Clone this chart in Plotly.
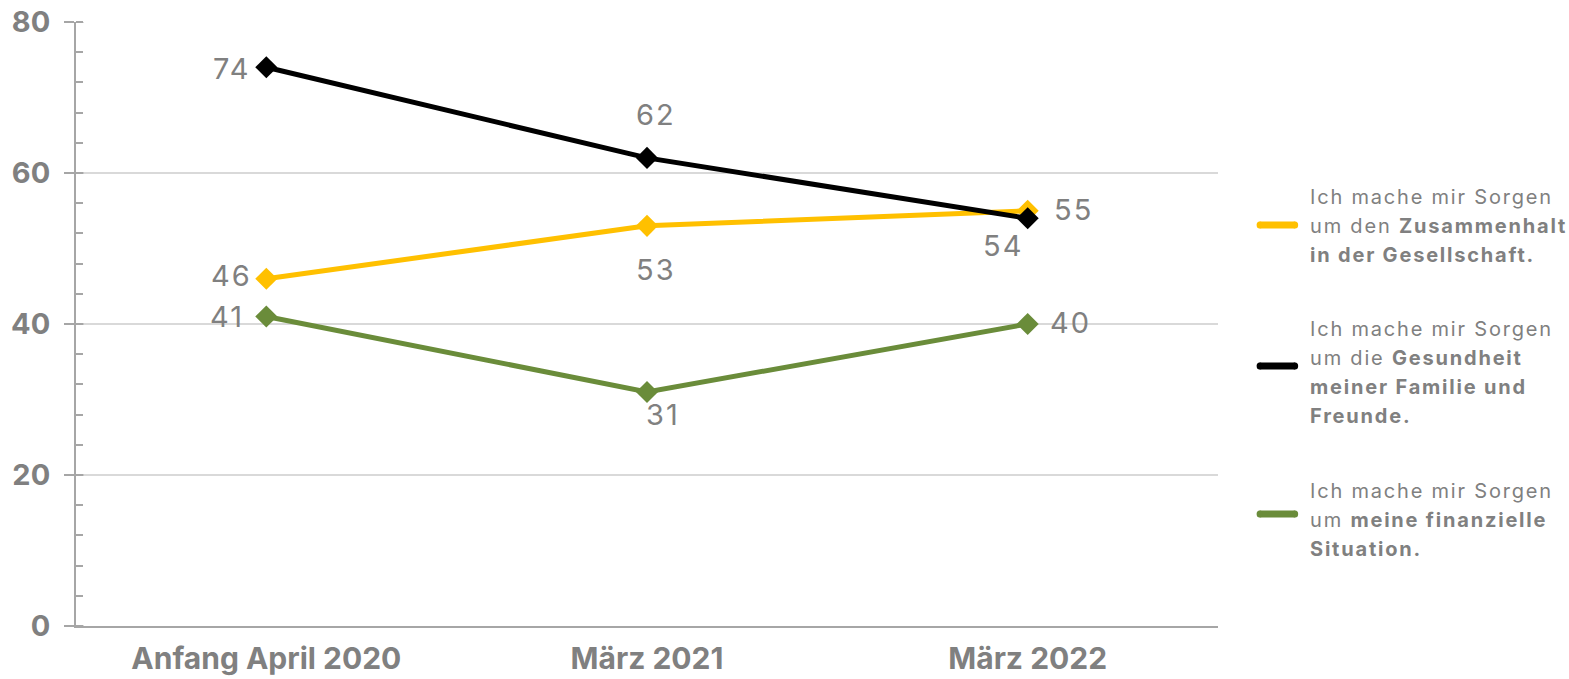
import plotly.graph_objects as go

# Survey waves and share of respondents (%) per concern
waves = ["Anfang April 2020", "März 2021", "März 2022"]
zusammenhalt = [46, 53, 55]
gesundheit = [74, 62, 54]
finanzen = [41, 31, 40]
y_ticks = [0, 20, 40, 60, 80]

series_lines = [
    ["Ich mache mir Sorgen", "um den <b>Zusammenhalt</b>", "<b>in der Gesellschaft.</b>"],
    ["Ich mache mir Sorgen", "um die <b>Gesundheit</b>", "<b>meiner Familie und</b>", "<b>Freunde.</b>"],
    ["Ich mache mir Sorgen", "um <b>meine finanzielle</b>", "<b>Situation.</b>"],
]
colors = ["#FFC000", "#000000", "#6A8C3A"]

# Pixel offsets of each value label from its marker (x, y; y up)
label_offsets = [
    [(-35, 3), (9, -44), (46, 1)],
    [(-35, -1), (9, 43), (-25, -27)],
    [(-39, 0), (16, -23), (43, 2)],
]

FONT = "Inter, 'Noto Sans', sans-serif"
GREY = "#808080"
AXIS_GREY = "#A6A6A6"


def spaced(text, px):
    return f'<span style="letter-spacing:{px}px">{text}</span>'


fig = go.Figure()
for values, color, offsets in zip([zusammenhalt, gesundheit, finanzen], colors, label_offsets):
    fig.add_trace(go.Scatter(
        x=waves, y=values, mode="lines+markers",
        line=dict(color=color, width=5),
        marker=dict(symbol="diamond", size=17, color=color),
        cliponaxis=False,
        showlegend=False,
    ))
    for wave, v, (dx, dy) in zip(waves, values, offsets):
        fig.add_annotation(
            x=wave, y=v, xref="x", yref="y",
            text=spaced(str(v), 2), showarrow=False,
            xanchor="center", yanchor="middle",
            xshift=dx, yshift=dy,
            font=dict(family=FONT, size=29, color=GREY),
        )

# Legend drawn beside the plot: a rounded line swatch plus rich text lines
legend_y = [0.662, 0.42, 0.175]
swatch_y = [0.664, 0.4305, 0.1854]
line_gap = 29
x0, x1 = 1.0365, 1.0675
for lines, color, ty, sy in zip(series_lines, colors, legend_y, swatch_y):
    n = len(lines)
    for i, line in enumerate(lines):
        fig.add_annotation(
            xref="paper", yref="paper", x=1.0792, y=ty,
            xanchor="left", yanchor="middle", align="left",
            yshift=((n - 1) / 2 - i) * line_gap,
            text=spaced(line, 1.8), showarrow=False,
            font=dict(family=FONT, size=20, color=GREY),
        )
    fig.add_shape(type="line", xref="paper", yref="paper",
                  x0=x0, x1=x1, y0=sy, y1=sy,
                  line=dict(color=color, width=7))
    for xc in (x0, x1):
        fig.add_shape(type="circle", xref="paper", yref="paper",
                      x0=xc - 0.0027, x1=xc + 0.0027,
                      y0=sy - 0.0058, y1=sy + 0.0058,
                      fillcolor=color, line=dict(width=0))

# Major y ticks cross the axis: add their inner half
for t in y_ticks:
    fig.add_shape(type="line", xref="paper", yref="y",
                  x0=0, x1=0.0065, y0=t, y1=t,
                  line=dict(color=AXIS_GREY, width=2))

fig.update_layout(
    width=1569, height=679,
    margin=dict(l=75.5, r=350.5, t=22, b=53),
    paper_bgcolor="white", plot_bgcolor="white",
    font=dict(family=FONT, color=GREY),
)
fig.update_xaxes(
    type="category", range=[-0.5, 2.5], automargin=False,
    showline=True, linecolor=AXIS_GREY, linewidth=2,
    showgrid=False, ticks="",
    ticklabelstandoff=5,
    tickfont=dict(family=FONT, size=30, color=GREY, weight="bold"),
)
fig.update_yaxes(
    range=[0, 80], tickvals=y_ticks, zeroline=False, automargin=False,
    showline=True, linecolor=AXIS_GREY, linewidth=2,
    showgrid=True, gridcolor="#D9D9D9", gridwidth=2,
    ticks="outside", ticklen=10, tickwidth=2, tickcolor=AXIS_GREY,
    ticklabelstandoff=8,
    minor=dict(dtick=4, ticks="inside", ticklen=7, tickwidth=2,
               tickcolor=AXIS_GREY, showgrid=False),
    tickfont=dict(family=FONT, size=29, color=GREY, weight="bold"),
)

fig.write_html("out.html")
